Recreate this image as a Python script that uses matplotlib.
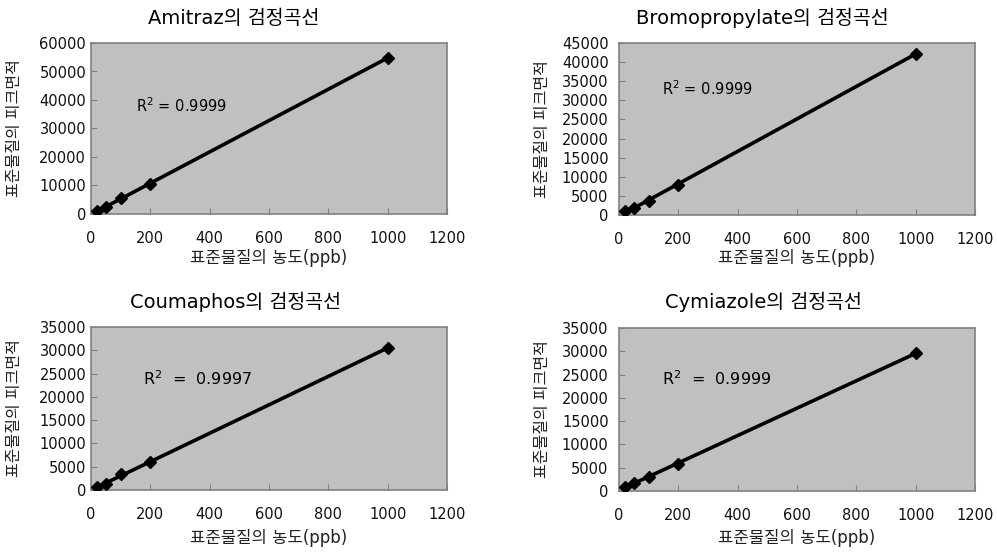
import matplotlib
matplotlib.use('Agg')
import matplotlib.pyplot as plt
import numpy as np

plt.rcParams['font.family'] = ['DejaVu Sans', 'Noto Sans CJK KR']

# standard concentrations (ppb)
conc = [20, 50, 100, 200, 1000]

# peak areas per compound
amitraz = [1000, 2300, 5700, 10500, 54800]
bromopropylate = [1000, 1800, 3600, 7900, 42200]
coumaphos = [600, 1200, 3400, 6000, 30500]
cymiazole = [800, 1800, 3100, 5700, 29600]

names = ['Amitraz', 'Bromopropylate', 'Coumaphos', 'Cymiazole']
r2_labels = ['0.9999', '0.9999', '0.9997', '0.9999']
y_max = [60000, 45000, 35000, 35000]
y_step = [10000, 5000, 5000, 5000]
r2_pos = [(150, 38000), (145, 33000), (175, 24000), (145, 24200)]
r2_text = ['R$^2$ = ', 'R$^2$ = ', 'R$^2$  =  ', 'R$^2$  =  ']
r2_size = [10.5, 10.5, 11.5, 11.5]

x_label = '표준물질의 농도(ppb)'
y_label = '표준물질의 피크면적'

W, H = 997, 552
fig = plt.figure(figsize=(W / 100, H / 100), dpi=100)

# axes boxes in pixels: left, top, right, bottom
boxes = [(91, 43, 447, 214), (619, 43, 975, 215),
         (91, 327, 447, 490), (619, 328, 975, 491)]
title_x = [234, 762, 235, 763]
title_y = [18, 18, 302, 302]
ypad = [3.5, 7.5, 3.5, 7.5]
xlab_y = [258, 258, 538, 538]
ylab_x = [15, 542, 15, 542]

series = [amitraz, bromopropylate, coumaphos, cymiazole]

for i, ys in enumerate(series):
    l, t, r, b = boxes[i]
    w, h = r - l, b - t
    ax = fig.add_axes([l / W, 1 - b / H, w / W, h / H])
    ax.set_facecolor('#c0c0c0')

    # linear trendline through the standards
    k, c0 = np.polyfit(conc, ys, 1)
    xs = np.array([conc[0], conc[-1]])
    ax.plot(xs, k * xs + c0, color='black', lw=2.6, zorder=2)
    ax.plot(conc, ys, 'D', color='black', ms=6.5, zorder=3)

    ax.set_xlim(0, 1200)
    ax.set_ylim(0, y_max[i])
    ax.set_xticks(range(0, 1201, 200))
    ax.set_yticks(range(0, y_max[i] + 1, y_step[i]))
    ax.tick_params(direction='in', length=4, color='#808080', labelsize=10.5,
                   labelcolor='#111111')
    ax.tick_params(axis='x', pad=12)
    ax.tick_params(axis='y', pad=ypad[i])
    for s in ax.spines.values():
        s.set_color('#808080')
        s.set_linewidth(1.2)

    ax.set_xlabel(x_label, fontsize=12, color='#222222', va='center')
    ax.xaxis.set_label_coords(0.5, -(xlab_y[i] - b) / h)
    ax.set_ylabel(y_label, fontsize=11.5, color='#222222', va='center')
    ax.yaxis.set_label_coords((ylab_x[i] - l) / w, 0.5)

    ax.text(r2_pos[i][0], r2_pos[i][1], r2_text[i] + r2_labels[i],
            fontsize=r2_size[i], va='center', ha='left')

    fig.text(title_x[i] / W, 1 - title_y[i] / H, names[i] + '의 검정곡선',
             fontsize=14, ha='center', va='center')

fig.savefig('out.png', dpi=100)
